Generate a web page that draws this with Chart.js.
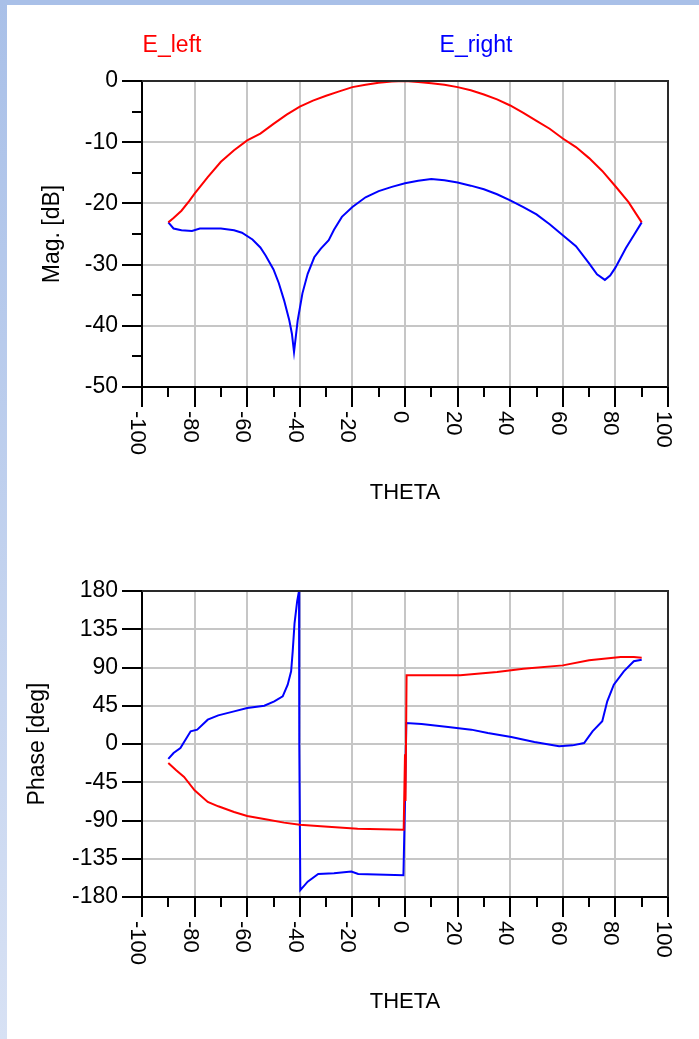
<!DOCTYPE html>
<html>
<head>
<meta charset="utf-8">
<script src="https://cdn.jsdelivr.net/npm/chart.js@4.4.0/dist/chart.umd.min.js"></script>
<style>
  body { margin: 0; background: #fff; width: 699px; height: 1039px; position: relative; overflow: hidden; }
  #bandTop { position: absolute; left: 0; top: 0; width: 699px; height: 5px; background: #a9c0e8; }
  #bandLeft { position: absolute; left: 0; top: 0; width: 7px; height: 1039px; background: linear-gradient(#a9c0e8, #d7e1f4); }
  canvas { position: absolute; left: 0; }
  #magChart { top: 0; }
  #phaseChart { top: 520px; }
</style>
</head>
<body>
<div id="bandTop"></div>
<div id="bandLeft"></div>
<canvas id="magChart" width="699" height="520"></canvas>
<canvas id="phaseChart" width="699" height="519"></canvas>
<script>
// axis ticks
const thetaMajor = [-100, -80, -60, -40, -20, 0, 20, 40, 60, 80, 100];
const thetaMinor = [-90, -70, -50, -30, -10, 10, 30, 50, 70, 90];
const magMajor = [0, -10, -20, -30, -40, -50];
const magMinor = [-5, -15, -25, -35, -45];
const phaseMajor = [180, 135, 90, 45, 0, -45, -90, -135, -180];

// magnitude, E_left
const magLeftTheta = [-90, -88, -85, -82, -80, -75, -70, -65, -60, -55, -50, -45, -40, -35, -30, -25, -20, -15, -10, -5, 0,
  5, 10, 15, 20, 25, 30, 35, 40, 45, 50, 55, 60, 65, 70, 75, 80, 85, 88, 90];
const magLeftDb = [-23.1, -22.4, -21.2, -19.6, -18.4, -15.7, -13.2, -11.3, -9.7, -8.6, -7.0, -5.5, -4.2, -3.2, -2.4, -1.7, -1.0, -0.6, -0.3, -0.1, 0,
  -0.15, -0.35, -0.6, -1.0, -1.5, -2.2, -3.0, -4.0, -5.2, -6.5, -7.8, -9.4, -10.8, -12.6, -14.7, -17.2, -19.8, -21.8, -23.1];

// magnitude, E_right
const magRightTheta = [-90, -88, -85, -81, -78, -70, -65, -62, -58, -55, -53, -50, -48, -46, -44, -43, -42.2, -40.8, -39, -37, -34.5,
  -32, -29, -27, -24, -20, -15, -10, -5, 0, 5, 10, 15, 20, 25, 30, 35, 40, 45, 50, 55, 60, 65, 70, 73, 76, 78, 80, 84, 87, 90];
const magRightDb = [-23.1, -24.1, -24.4, -24.5, -24.1, -24.1, -24.4, -24.8, -25.9, -27.2, -28.5, -30.8, -33.0, -35.8, -39.1, -41.3, -44.3, -39.1, -34.7, -31.5, -28.8,
  -27.4, -26.0, -24.3, -22.2, -20.6, -19.0, -18.0, -17.3, -16.7, -16.3, -16.0, -16.2, -16.6, -17.1, -17.7, -18.5, -19.5, -20.6, -21.8, -23.4, -25.2, -27.0, -29.8, -31.6, -32.5, -31.8, -30.5, -27.3, -25.2, -23.1];

// phase, E_left
const phaseLeftTheta = [-90, -87, -84, -80, -75, -71, -65, -60, -52, -46, -40, -32, -18, -0.5, 0, 0.2, 0.6,
  10, 21, 35, 45, 60, 70, 82, 87, 90];
const phaseLeftDeg = [-22.4, -31, -38.8, -54.5, -68.2, -73.3, -80, -84.7, -89, -92.5, -94.9, -96.9, -99.6, -100.8, -12, -67, 80.8,
  80.8, 80.8, 84.7, 88.6, 92.5, 98.4, 102.4, 102.4, 101.6];

// phase, E_right
const phaseRightTheta = [-90, -88, -85.4, -81.5, -79, -75, -71, -65, -60, -53.5, -49.7, -46.5, -44.6, -43.3, -42.7, -42, -41, -40.3, -40.2, -39.8,
  -37, -33, -27, -20.4, -17.8, -0.6, 0, 0.5, 6.3, 16.4, 25.2, 31.5, 40.4, 49.2, 58.6, 63.7, 68.1, 71.3, 75, 76.9, 79.4, 83.2, 87, 90];
const phaseRightDeg = [-17.6, -10.6, -4.7, 14.9, 16.9, 28.6, 33.7, 38.4, 42.4, 45.1, 50.2, 56.1, 69.8, 85.5, 109, 142, 168, 180, 0, -172,
  -162, -153, -152, -150, -153, -154.5, -67, 24.7, 23.5, 20, 16.9, 12.9, 8.2, 2.4, -2.7, -1.6, 1.2, 14.9, 26.7, 50.2, 69.8, 85.5, 97.3, 99];

const FONT = "'Liberation Sans', Arial, sans-serif";

function toPoints(xs, ys) {
  return xs.map((x, i) => ({ x: x, y: ys[i] }));
}

// frame, minor ticks, rotated theta labels, series names
const decorPlugin = {
  id: "decor",
  afterDraw(chart, args, opts) {
    const ctx = chart.ctx;
    const a = chart.chartArea;
    const xs = chart.scales.x;
    const ys = chart.scales.y;
    ctx.save();
    ctx.strokeStyle = "#000";
    ctx.lineWidth = 2;
    ctx.beginPath();
    opts.xMinor.forEach((v) => {
      const px = Math.round(xs.getPixelForValue(v));
      ctx.moveTo(px, a.bottom);
      ctx.lineTo(px, a.bottom + 10);
    });
    opts.yMinor.forEach((v) => {
      const py = Math.round(ys.getPixelForValue(v));
      ctx.moveTo(a.left - 10, py);
      ctx.lineTo(a.left, py);
    });
    ctx.stroke();

    // top and right edge of the frame
    ctx.strokeStyle = "#2a2a2a";
    ctx.lineWidth = 2;
    ctx.beginPath();
    ctx.moveTo(a.left, a.top);
    ctx.lineTo(a.right, a.top);
    ctx.lineTo(a.right, a.bottom);
    ctx.stroke();

    // theta labels, turned clockwise
    ctx.fillStyle = "#000";
    ctx.font = "22px " + FONT;
    ctx.textAlign = "left";
    ctx.textBaseline = "middle";
    xs.ticks.forEach((t) => {
      const px = xs.getPixelForValue(t.value);
      ctx.save();
      ctx.translate(px - 5, a.bottom + 24);
      ctx.rotate(Math.PI / 2);
      ctx.fillText(String(t.value), 0, 0);
      ctx.restore();
    });

    if (opts.names) {
      ctx.font = "23px " + FONT;
      ctx.textAlign = "center";
      chart.data.datasets.forEach((ds, i) => {
        ctx.fillStyle = ds.borderColor;
        ctx.fillText(ds.label, opts.names[i], 46);
      });
    }
    ctx.restore();
  },
};

function makeChart(id, cfg) {
  const ctx = document.getElementById(id).getContext("2d");
  return new Chart(ctx, {
    type: "line",
    data: {
      datasets: [
        { label: "E_left", data: cfg.left, borderColor: "#ff0000", borderWidth: 2, pointRadius: 0, tension: 0 },
        { label: "E_right", data: cfg.right, borderColor: "#0000ff", borderWidth: 2, pointRadius: 0, tension: 0 },
      ],
    },
    plugins: [decorPlugin],
    options: {
      responsive: false,
      animation: false,
      layout: { padding: { left: 0, top: cfg.top, right: 31, bottom: 0 } },
      plugins: {
        legend: { display: false },
        tooltip: { enabled: false },
        decor: { xMinor: thetaMinor, yMinor: cfg.yMinor, names: cfg.names },
      },
      scales: {
        x: {
          type: "linear",
          min: -100,
          max: 100,
          afterBuildTicks: (s) => { s.ticks = thetaMajor.map((v) => ({ value: v })); },
          afterFit: (s) => { s.height = cfg.xHeight; },
          ticks: { display: false },
          grid: { color: "#c6c6c6", lineWidth: 2, drawTicks: true, tickLength: 20, tickColor: "#000", tickWidth: 2 },
          border: { display: true, color: "#000", width: 2 },
          title: {
            display: true,
            text: "THETA",
            color: "#000",
            font: { family: FONT, size: 22 },
            padding: { top: 0, bottom: cfg.xTitlePad },
          },
        },
        y: {
          type: "linear",
          min: cfg.yMin,
          max: cfg.yMax,
          afterBuildTicks: (s) => { s.ticks = cfg.yMajor.map((v) => ({ value: v })); },
          afterFit: (s) => { s.width = 142; },
          ticks: { color: "#000", padding: 4, font: { family: FONT, size: 23 }, callback: (v) => String(v) },
          grid: { color: "#c6c6c6", lineWidth: 2, drawTicks: true, tickLength: 20, tickColor: "#000", tickWidth: 2 },
          border: { display: true, color: "#000", width: 2 },
          title: {
            display: true,
            text: cfg.yTitle,
            color: "#000",
            font: { family: FONT, size: 23 },
            padding: { top: cfg.yTitlePad, bottom: 0 },
          },
        },
      },
    },
  });
}

makeChart("magChart", {
  left: toPoints(magLeftTheta, magLeftDb),
  right: toPoints(magRightTheta, magRightDb),
  top: 81,
  xHeight: 133,
  xTitlePad: 14,
  yMin: -50,
  yMax: 0,
  yMajor: magMajor,
  yMinor: magMinor,
  yTitle: "Mag. [dB]",
  yTitlePad: 39,
  names: [172, 476],
});

makeChart("phaseChart", {
  left: toPoints(phaseLeftTheta, phaseLeftDeg),
  right: toPoints(phaseRightTheta, phaseRightDeg),
  top: 71,
  xHeight: 142,
  xTitlePad: 24,
  yMin: -180,
  yMax: 180,
  yMajor: phaseMajor,
  yMinor: [],
  yTitle: "Phase [deg]",
  yTitlePad: 24,
  names: null,
});
</script>
</body>
</html>
